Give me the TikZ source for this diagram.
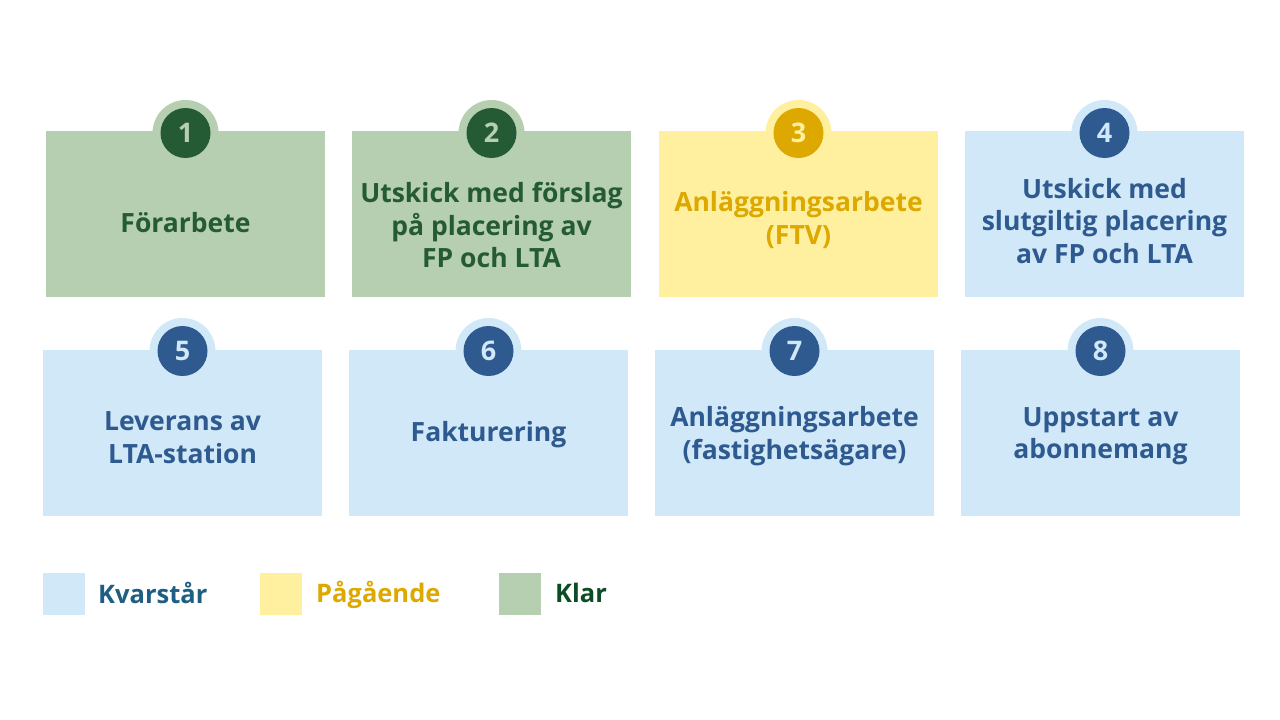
\documentclass[tikz,border=0pt]{standalone}
\usepackage{fontspec}
\setmainfont{Open Sans}
\definecolor{gbox}{HTML}{B6CFB0}
\definecolor{gdark}{HTML}{245B35}
\definecolor{ybox}{HTML}{FFF0A0}
\definecolor{ydark}{HTML}{DDA800}
\definecolor{bbox}{HTML}{D0E8F8}
\definecolor{bdark}{HTML}{2E5A8F}
\definecolor{bleg}{HTML}{1E5E84}
\definecolor{gleg}{HTML}{0D4D26}
\begin{document}
\begin{tikzpicture}[x=1pt,y=-1pt,
  box/.style={minimum width=279pt, minimum height=166pt, inner sep=0pt},
  lbl/.style={inner sep=0pt, align=center, font=\bfseries\fontsize{26.5}{32.5}\selectfont},
  halo/.style={circle, minimum size=66pt, inner sep=0pt},
  num/.style={circle, minimum size=50pt, inner sep=0pt, font=\bfseries\fontsize{27}{27}\selectfont},
  klar/.style={box, fill=gbox},
  pag/.style={box, fill=ybox},
  kvar/.style={box, fill=bbox},
  legsq/.style={minimum size=42pt, inner sep=0pt},
  legtxt/.style={anchor=west, inner sep=0pt, font=\bfseries\fontsize{25.5}{25.5}\selectfont}
]
\useasboundingbox (0,0) rectangle (1280,720);
% row 1
\node[halo, fill=gbox] (h1) at (185.5,133) {};
\node[halo, fill=gbox] (h2) at (491.5,133) {};
\node[halo, fill=ybox] (h3) at (798.5,133) {};
\node[halo, fill=bbox] (h4) at (1104.5,133) {};
\node[klar] (b1) at (185.5,214) {};
\node[klar] (b2) at (491.5,214) {};
\node[pag] (b3) at (798.5,214) {};
\node[kvar] (b4) at (1104.5,214) {};
\node[lbl, text=gdark] (x1) at (185.5,223) {Förarbete};
\node[lbl, text=gdark] (x2) at (491.5,225) {Utskick med förslag\\på placering av\\FP och LTA};
\node[lbl, text=ydark] (x3) at (798.5,220) {Anläggningsarbete\\(FTV)};
\node[lbl, text=bdark] (x4) at (1104.5,221) {Utskick med\\slutgiltig placering\\av FP och LTA};
\node[num, fill=gdark, text=gbox] (n1) at (h1) {1};
\node[num, fill=gdark, text=gbox] (n2) at (h2) {2};
\node[num, fill=ydark, text=ybox] (n3) at (h3) {3};
\node[num, fill=bdark, text=bbox] (n4) at (h4) {4};
% row 2
\node[halo, fill=bbox] (h5) at (182.5,351) {};
\node[halo, fill=bbox] (h6) at (488.5,351) {};
\node[halo, fill=bbox] (h7) at (794.5,351) {};
\node[halo, fill=bbox] (h8) at (1100.5,351) {};
\node[kvar] (b5) at (182.5,433) {};
\node[kvar] (b6) at (488.5,433) {};
\node[kvar] (b7) at (794.5,433) {};
\node[kvar] (b8) at (1100.5,433) {};
\node[lbl, text=bdark] (x5) at (182.5,437.5) {Leverans av\\LTA-station};
\node[lbl, text=bdark] (x6) at (488.5,435) {Fakturering};
\node[lbl, text=bdark] (x7) at (794.5,436) {Anläggningsarbete\\(fastighetsägare)};
\node[lbl, text=bdark] (x8) at (1100.5,436) {Uppstart av\\abonnemang};
\node[num, fill=bdark, text=bbox] (n5) at (h5) {5};
\node[num, fill=bdark, text=bbox] (n6) at (h6) {6};
\node[num, fill=bdark, text=bbox] (n7) at (h7) {7};
\node[num, fill=bdark, text=bbox] (n8) at (h8) {8};
% legend
\node[legsq, fill=bbox] (l1) at (64,594) {};
\node[legsq, fill=ybox] (l2) at (281,594) {};
\node[legsq, fill=gbox] (l3) at (520,594) {};
\node[legtxt, text=bleg] (t1) at (98,593) {Kvarstår};
\node[legtxt, text=ydark] (t2) at (316,595) {Pågående};
\node[legtxt, text=gleg] (t3) at (555,593) {Klar};
\end{tikzpicture}
\end{document}
